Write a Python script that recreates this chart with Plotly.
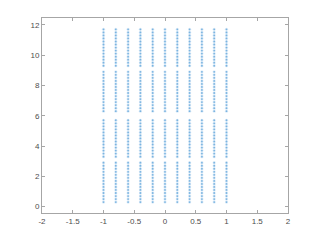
import plotly.graph_objects as go

x_columns = [-1.0, -0.8, -0.6, -0.4, -0.2, 0.0, 0.2, 0.4, 0.6, 0.8, 1.0]

group_a = [0.3, 0.5, 0.7, 0.9, 1.1, 1.3, 1.5, 1.7, 1.9, 2.1, 2.3, 2.5, 2.7, 2.9]
group_b = [3.3, 3.5, 3.7, 3.9, 4.1, 4.3, 4.5, 4.7, 4.9, 5.1, 5.3, 5.5, 5.7]
group_c = [6.3, 6.5, 6.7, 6.9, 7.1, 7.3, 7.5, 7.7, 7.9, 8.1, 8.3, 8.5, 8.7, 8.9]
group_d = [9.3, 9.5, 9.7, 9.9, 10.1, 10.3, 10.5, 10.7, 10.9, 11.1, 11.3, 11.5, 11.7]

x_ticks = [-2, -1.5, -1, -0.5, 0, 0.5, 1, 1.5, 2]
x_tick_labels = ["-2", "-1.5", "-1", "-0.5", "0", "0.5", "1", "1.5", "2"]
y_ticks = [0, 2, 4, 6, 8, 10, 12]
y_tick_labels = ["0", "2", "4", "6", "8", "10", "12"]

xs, ys = [], []
for g in (group_a, group_b, group_c, group_d):
    for xc in x_columns:
        for yv in g:
            xs.append(xc)
            ys.append(yv)

fig = go.Figure()
fig.add_trace(go.Scatter(
    x=xs, y=ys, mode="markers",
    marker=dict(size=3.2, color="#c4def3", opacity=0.6, line=dict(width=0)),
    showlegend=False, hoverinfo="skip",
))
fig.add_trace(go.Scatter(
    x=xs, y=ys, mode="markers",
    marker=dict(size=1.8, color="#3a8fd0", opacity=0.6, line=dict(width=0)),
    showlegend=False, hoverinfo="skip",
))

axis_common = dict(
    showgrid=False, zeroline=False, showline=True, linecolor="#a6a6a6", linewidth=1,
    mirror="ticks", ticks="inside", ticklen=3, tickcolor="#a6a6a6",
    tickfont=dict(family="Liberation Sans, Arial, sans-serif", size=8, color="#4d4d4d"),
)
fig.update_xaxes(range=[-2, 2], tickvals=x_ticks, ticktext=x_tick_labels, **axis_common)
fig.update_yaxes(range=[-0.42, 12.45], tickvals=y_ticks, ticktext=y_tick_labels, **axis_common)
fig.update_layout(
    width=320, height=240,
    margin=dict(l=42, r=32, t=18, b=27),
    paper_bgcolor="white", plot_bgcolor="white",
)
fig.write_html("out.html")
